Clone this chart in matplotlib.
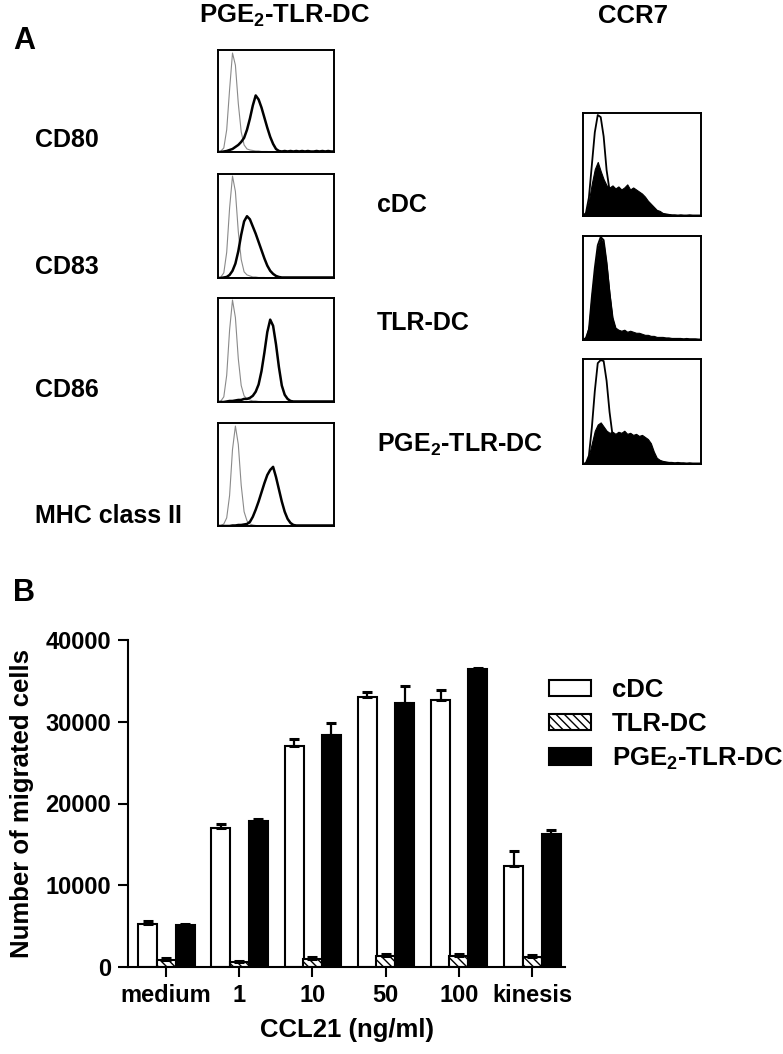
import numpy as np
import matplotlib
matplotlib.use('Agg')
import matplotlib.pyplot as plt

plt.rcParams['font.family'] = ['Liberation Sans', 'DejaVu Sans']
plt.rcParams['font.weight'] = 'bold'
plt.rcParams['axes.labelweight'] = 'bold'
plt.rcParams['mathtext.fontset'] = 'custom'
plt.rcParams['mathtext.rm'] = 'Liberation Sans:bold'
plt.rcParams['mathtext.bf'] = 'Liberation Sans:bold'
plt.rcParams['hatch.linewidth'] = 1.0

# ---- panel A: flow histograms (x = fluorescence, 0-100; y = % of max) ----
hist_x = [0, 2.5, 5, 7.5, 10, 12.5, 15, 17.5, 20, 22.5,
          25, 27.5, 30, 32.5, 35, 37.5, 40, 42.5, 45, 47.5,
          50, 52.5, 55, 57.5, 60, 62.5, 65, 67.5, 70, 72.5,
          75, 77.5, 80, 82.5, 85, 87.5, 90, 92.5, 95, 97.5, 100]

iso_cd80 = [0, 1, 4, 22, 62, 98, 86, 48, 20, 7,
            3, 2, 1.5, 1, 1, 0.5, 0.5, 0.5, 0, 0,
            0, 0, 0, 0, 0, 0, 0, 0, 0, 0,
            0, 0, 0, 0, 0, 0, 0, 0, 0, 0, 0]
pos_cd80 = [0, 0, 0.5, 1, 2, 3, 5, 7, 10, 14,
            22, 33, 46, 56, 52, 44, 34, 24, 15, 8,
            3, 1, 0.5, 1, 0.5, 1, 0.5, 1, 0.5, 1,
            0.5, 1, 0.5, 0.5, 1, 0.5, 1, 0.5, 1, 0.5, 0.5]

iso_cd83 = [0, 1, 5, 25, 68, 99, 84, 45, 18, 6,
            3, 2, 1, 1, 0.5, 0.5, 0.5, 0, 0, 0,
            0, 0, 0, 0, 0, 0, 0, 0, 0, 0,
            0, 0, 0, 0, 0, 0, 0, 0, 0, 0, 0]
pos_cd83 = [0, 0, 0.5, 1, 3, 7, 14, 26, 42, 55,
            60, 57, 50, 43, 35, 27, 19, 12, 7, 4,
            2, 1, 0.5, 0.5, 0.5, 0.5, 0.5, 0.5, 0.5, 0.5,
            0.5, 0.5, 0.5, 0.5, 0.5, 0.5, 0.5, 0.5, 0.5, 0.5, 0.5]

iso_cd86 = [0, 1, 5, 26, 70, 99, 82, 42, 16, 6,
            3, 2, 1, 1, 0.5, 0.5, 0, 0, 0, 0,
            0, 0, 0, 0, 0, 0, 0, 0, 0, 0,
            0, 0, 0, 0, 0, 0, 0, 0, 0, 0, 0]
pos_cd86 = [0, 0, 0, 0.5, 1, 1, 1.5, 2, 2, 3,
            3, 4, 6, 10, 17, 30, 48, 68, 80, 74,
            56, 34, 16, 7, 3, 1, 0.5, 0.5, 0.5, 0.5,
            0.5, 0.5, 0.5, 0.5, 0.5, 0.5, 0.5, 0.5, 0.5, 0.5, 0.5]

iso_mhc = [0, 0.5, 2, 8, 30, 75, 98, 80, 40, 14,
           5, 2, 1, 0.5, 0, 0, 0, 0, 0, 0,
           0, 0, 0, 0, 0, 0, 0, 0, 0, 0,
           0, 0, 0, 0, 0, 0, 0, 0, 0, 0, 0]
pos_mhc = [0, 0, 0, 0, 0, 0.5, 0.5, 1, 1, 1.5,
           2, 4, 9, 16, 24, 33, 42, 50, 55, 58,
           48, 36, 24, 14, 7, 3, 1, 0.5, 0.5, 0.5,
           0.5, 0.5, 0.5, 0.5, 0.5, 0.5, 0.5, 0.5, 0.5, 0.5, 0.5]

# CCR7: open = control outline, fill = CCR7 stain
ccr7_open_cdc = [0, 3, 18, 50, 82, 99, 97, 78, 45, 25,
                 14, 8, 5, 3, 2, 1, 1, 1, 1, 1,
                 1, 1, 1, 1, 1, 1, 1, 1, 1, 1,
                 0.5, 0.5, 0.5, 0.5, 0.5, 0.5, 0.5, 0.5, 0.5, 0.5, 0.5]
ccr7_fill_cdc = [0, 4, 15, 32, 46, 53, 44, 36, 30, 28,
                 30, 27, 29, 26, 28, 31, 26, 28, 26, 24,
                 22, 19, 15, 12, 9, 6, 5, 3, 2.5, 2,
                 1.5, 1.5, 1, 1.5, 1, 1, 1.5, 1, 1, 1, 1]
ccr7_open_tlr = [0, 2, 10, 42, 70, 92, 100, 97, 75, 45,
                 20, 10, 6, 4, 3, 2, 2, 2, 2, 2,
                 1, 1, 1, 1, 1, 1, 1, 1, 1, 1,
                 0.5, 0.5, 0.5, 0.5, 0.5, 0.5, 0.5, 0.5, 0.5, 0.5, 0.5]
ccr7_fill_tlr = [0, 3, 14, 45, 70, 90, 99, 93, 72, 45,
                 22, 12, 10, 9, 10, 8, 9, 8, 7, 7,
                 6, 5, 5, 4, 4, 3, 3, 3, 2.5, 2.5,
                 2, 2, 2, 2, 1.5, 2, 1.5, 1.5, 1.5, 1, 1]
ccr7_open_pge = [0, 1, 8, 35, 70, 97, 100, 99, 80, 50,
                 28, 12, 4, 2, 2, 2, 2, 2, 2, 2,
                 2, 2, 2, 2, 1, 1, 1, 1, 1, 1,
                 0.5, 0.5, 0.5, 0.5, 0.5, 0.5, 0.5, 0.5, 0.5, 0.5, 0.5]
ccr7_fill_pge = [0, 2, 8, 20, 32, 38, 40, 36, 32, 30,
                 31, 29, 31, 30, 32, 29, 30, 28, 29, 27,
                 28, 26, 24, 20, 12, 6, 4, 3, 2.5, 2,
                 2, 1.5, 2, 1.5, 1.5, 1, 1.5, 1, 1, 1, 1]

marker_labels = ['CD80', 'CD83', 'CD86', 'MHC class II']
dc_labels = ['cDC', 'TLR-DC', r'PGE$_2$-TLR-DC']

# ---- panel B: migration ----
conditions = ['medium', '1', '10', '50', '100', 'kinesis']
cdc = [5300, 17000, 27000, 33000, 32600, 12400]
cdc_err = [300, 500, 900, 600, 1250, 1800]
tlr = [800, 600, 1000, 1300, 1300, 1200]
tlr_err = [250, 150, 250, 300, 300, 250]
pge = [5100, 17800, 28400, 32300, 36400, 16300]
pge_err = [100, 300, 1400, 2100, 200, 500]

W, H = 783, 1054
fig = plt.figure(figsize=(W / 100, H / 100), dpi=100)


def px_axes(x0, y0, x1, y1):
    return fig.add_axes([x0 / W, 1 - y1 / H, (x1 - x0) / W, (y1 - y0) / H])


def px_text(x, y, s, **kw):
    fig.text(x / W, 1 - y / H, s, **kw)


def box(ax):
    ax.set_xlim(0, 100)
    ax.set_ylim(0, 101)
    ax.set_xticks([])
    ax.set_yticks([])
    for sp in ax.spines.values():
        sp.set_linewidth(1.4)


# left column histograms
left_rows = [(50, 152), (174, 278), (298, 402), (423, 526)]
left_data = [(iso_cd80, pos_cd80), (iso_cd83, pos_cd83),
             (iso_cd86, pos_cd86), (iso_mhc, pos_mhc)]
for (y0, y1), (iso, pos) in zip(left_rows, left_data):
    ax = px_axes(218, y0, 334, y1)
    ax.plot(hist_x, iso, color='#8a8a8a', lw=0.8)
    ax.plot(hist_x, pos, color='black', lw=1.8)
    box(ax)

# right column CCR7
right_rows = [(113, 216), (236, 340), (359, 464)]
right_data = [(ccr7_open_cdc, ccr7_fill_cdc), (ccr7_open_tlr, ccr7_fill_tlr),
              (ccr7_open_pge, ccr7_fill_pge)]
for (y0, y1), (op, fl) in zip(right_rows, right_data):
    ax = px_axes(583, y0, 701, y1)
    ax.fill_between(hist_x, fl, 0, color='black', lw=0.8)
    ax.plot(hist_x, op, color='black', lw=1.3)
    box(ax)

px_text(13, 41, 'A', fontsize=22, va='center', ha='left')
px_text(285, 16, r'PGE$_2$-TLR-DC', fontsize=18.5, va='center', ha='center')
px_text(633, 16, 'CCR7', fontsize=18.5, va='center', ha='center')
for lab, yc in zip(marker_labels, [140, 267, 390, 516]):
    px_text(35, yc, lab, fontsize=18, va='center', ha='left')
for lab, yc in zip(dc_labels, [205, 323, 445]):
    px_text(377, yc, lab, fontsize=18, va='center', ha='left')
px_text(13, 593, 'B', fontsize=22, va='center', ha='left')

# bar chart
ax = px_axes(128, 640, 565, 967)
x = np.arange(len(conditions))
bw = 0.26
off = 0.25
kw = dict(lw=1.5, edgecolor='black')
ekw = dict(elinewidth=1.6, capsize=3.6, capthick=2.2, ecolor='black')
z = np.zeros(len(x))
ax.bar(x - off, cdc, bw, color='white', label='cDC', **kw)
ax.errorbar(x - off, cdc, yerr=[z, cdc_err], fmt='none', **ekw)
ax.bar(x, tlr, bw, color='white', hatch='\\\\\\\\', label='TLR-DC', **kw)
ax.errorbar(x, tlr, yerr=[z, tlr_err], fmt='none', **ekw)
ax.bar(x + off + 0.01, pge, bw, color='black', label=r'PGE$_2$-TLR-DC', **kw)
ax.errorbar(x + off + 0.01, pge, yerr=[z, pge_err], fmt='none', **ekw)

ax.set_xlim(-0.52, 5.45)
ax.set_ylim(0, 40000)
ax.set_yticks([0, 10000, 20000, 30000, 40000])
ax.set_xticks(x)
ax.set_xticklabels(conditions)
ax.spines['top'].set_visible(False)
ax.spines['right'].set_visible(False)
for s in ['left', 'bottom']:
    ax.spines[s].set_linewidth(1.5)
ax.tick_params(axis='both', direction='out', length=7, width=1.5, labelsize=17, pad=5)
ax.set_ylabel('Number of migrated cells', fontsize=18.5, labelpad=8)
ax.set_xlabel('CCL21 (ng/ml)', fontsize=18.5, labelpad=8)

ax.legend(loc='upper left', bbox_to_anchor=(549 / W, 1 - 678 / H),
          bbox_transform=fig.transFigure, frameon=False, fontsize=18.5,
          handlelength=1.65, handleheight=0.6, handletextpad=0.8,
          labelspacing=0.38, borderpad=0, borderaxespad=0)

fig.savefig('out.png', dpi=100)
